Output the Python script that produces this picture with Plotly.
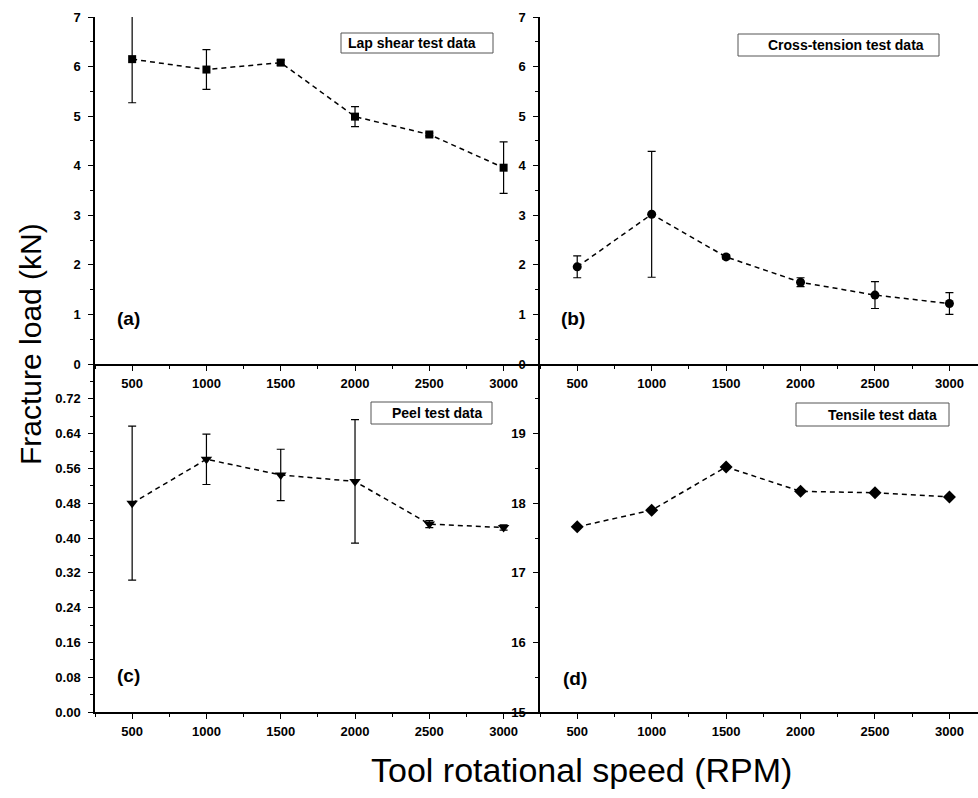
import plotly.graph_objects as go

# ---- data ----
rpm = [500, 1000, 1500, 2000, 2500, 3000]
lap_shear = [6.15, 5.94, 6.08, 4.99, 4.63, 3.96]
lap_shear_err = [0.88, 0.40, 0.05, 0.20, 0.03, 0.52]
cross_tension = [1.96, 3.02, 2.16, 1.65, 1.39, 1.22]
cross_tension_err = [0.22, 1.27, 0.04, 0.09, 0.27, 0.22]
peel = [0.480, 0.581, 0.545, 0.530, 0.432, 0.424]
peel_err = [0.177, 0.058, 0.059, 0.142, 0.008, 0.006]
tensile = [17.66, 17.90, 18.52, 18.17, 18.15, 18.09]

x_ticks = [500, 1000, 1500, 2000, 2500, 3000]
y_ticks_top = [0, 1, 2, 3, 4, 5, 6, 7]
y_ticks_peel = [0.00, 0.08, 0.16, 0.24, 0.32, 0.40, 0.48, 0.56, 0.64, 0.72]
y_ticks_tensile = [15, 16, 17, 18, 19]

W, H = 978, 798
FONT = "Liberation Sans"

def px(x):
    return x / W

def py(y):
    return 1 - y / H

line_style = dict(color="black", width=1.5, dash="5px,4px")

fig = go.Figure()

def add_series(y, err, symbol, size, xa, ya):
    kw = {}
    if err is not None:
        kw["error_y"] = dict(type="data", array=err, visible=True,
                             color="black", thickness=1.2, width=4)
    fig.add_trace(go.Scatter(
        x=rpm, y=y, mode="lines+markers",
        line=line_style,
        marker=dict(symbol=symbol, size=size, color="black"),
        xaxis=xa, yaxis=ya, showlegend=False, **kw))

add_series(lap_shear, lap_shear_err, "square", 8, "x", "y")
add_series(cross_tension, cross_tension_err, "circle", 9, "x2", "y2")
add_series(peel, peel_err, "triangle-down", 10, "x3", "y3")
add_series(tensile, None, "diamond", 10, "x4", "y4")

tickfont = dict(family=FONT, size=13, color="black", weight="bold")

def xaxis(domain, anchor, rng):
    return dict(domain=domain, anchor=anchor, range=rng, automargin=False,
                tickvals=x_ticks, ticks="outside", ticklen=5, tickwidth=1.3,
                tickcolor="black", ticklabelstandoff=2,
                minor=dict(dtick=250, tick0=0, ticks="outside", ticklen=3,
                           tickwidth=1.2, tickcolor="black"),
                showline=True, linecolor="black", linewidth=1.5,
                showgrid=False, zeroline=False, tickfont=tickfont)

def yaxis(domain, anchor, rng, tickvals, minor_dtick, fmt):
    return dict(domain=domain, anchor=anchor, range=rng, automargin=False,
                tickvals=tickvals, tickformat=fmt, ticklabelstandoff=5,
                ticks="outside", ticklen=5, tickwidth=1.3, tickcolor="black",
                minor=dict(dtick=minor_dtick, ticks="outside", ticklen=3,
                           tickwidth=1.2, tickcolor="black"),
                showline=True, linecolor="black", linewidth=1.5,
                showgrid=False, zeroline=False, tickfont=tickfont)

xl = [px(95), px(540)]
xr = [px(540), 1.0]
yt = [py(364), py(17)]
yb = [py(712), py(364)]

fig.update_layout(
    width=W, height=H,
    margin=dict(l=0, r=0, t=0, b=0, autoexpand=False),
    paper_bgcolor="white", plot_bgcolor="white",
    xaxis=xaxis(xl, "y", [250, 3245]),
    xaxis2=xaxis(xr, "y2", [250, 3192]),
    xaxis3=xaxis(xl, "y3", [250, 3245]),
    xaxis4=xaxis(xr, "y4", [250, 3192]),
    yaxis=yaxis(yt, "x", [0, 7], y_ticks_top, 0.5, "d"),
    yaxis2=yaxis(yt, "x2", [0, 7], y_ticks_top, 0.5, "d"),
    yaxis3=yaxis(yb, "x3", [0, 0.8], y_ticks_peel, 0.04, ".2f"),
    yaxis4=yaxis(yb, "x4", [15, 20], y_ticks_tensile, 0.5, "d"),
)

# legend-like boxes
boxes = [
    ((341, 33, 493, 53), (411.5, 43), "Lap shear test data"),
    ((738, 34, 939, 56), (845.5, 45), "Cross-tension test data"),
    ((371, 402, 492, 424), (437, 413), "Peel test data"),
    ((796, 403, 949, 426), (882.5, 414.5), "Tensile test data"),
]
for (x0, y0, x1, y1), (tx, ty), txt in boxes:
    fig.add_shape(type="rect", xref="paper", yref="paper",
                  x0=px(x0), x1=px(x1), y0=py(y1), y1=py(y0),
                  line=dict(color="#555555", width=1), fillcolor="white")
    fig.add_annotation(xref="paper", yref="paper", x=px(tx), y=py(ty),
                       text="<b>%s</b>" % txt, showarrow=False,
                       font=dict(family=FONT, size=14, color="black"),
                       xanchor="center", yanchor="middle")

# panel labels
for lab, (lx, ly) in [("(a)", (128, 318)), ("(b)", (573, 318)),
                      ("(c)", (128, 675)), ("(d)", (575, 678))]:
    fig.add_annotation(xref="paper", yref="paper", x=px(lx), y=py(ly),
                       text="<b>%s</b>" % lab, showarrow=False,
                       font=dict(family=FONT, size=19, color="black"),
                       xanchor="center", yanchor="middle")

# axis titles
fig.add_annotation(xref="paper", yref="paper", x=px(30), y=py(344),
                   text="Fracture load (kN)", showarrow=False, textangle=-90,
                   font=dict(family=FONT, size=30, color="black"),
                   xanchor="center", yanchor="middle")
fig.add_annotation(xref="paper", yref="paper", x=px(581), y=py(770),
                   text="Tool rotational speed (RPM)", showarrow=False,
                   font=dict(family=FONT, size=34, color="black"),
                   xanchor="center", yanchor="middle")

fig.write_html("out.html",
               config={"displayModeBar": False},
               post_script="document.body.style.margin='0';"
                           "document.body.style.overflow='hidden';")
